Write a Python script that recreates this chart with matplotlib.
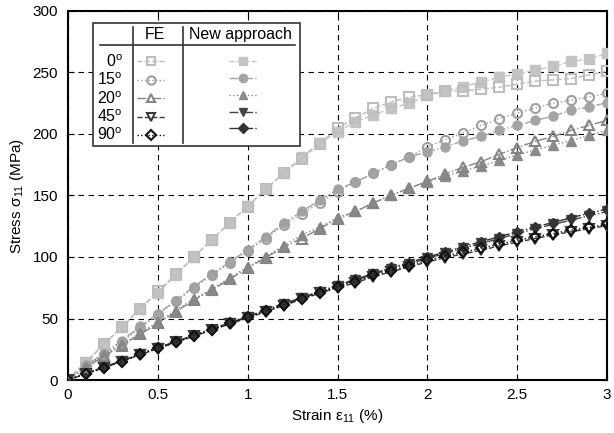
import matplotlib
matplotlib.use("Agg")
import matplotlib.pyplot as plt
from matplotlib.lines import Line2D
from matplotlib.patches import Rectangle

plt.rcParams['font.family'] = ['Liberation Sans', 'DejaVu Sans']
plt.rcParams['mathtext.fontset'] = 'custom'
plt.rcParams['mathtext.rm'] = 'Liberation Sans'
plt.rcParams['mathtext.it'] = 'Liberation Sans:italic'
plt.rcParams['font.size'] = 11

# strain (%)
strain = [0.0, 0.1, 0.2, 0.3, 0.4, 0.5, 0.6, 0.7, 0.8, 0.9, 1.0,
          1.1, 1.2, 1.3, 1.4, 1.5, 1.6, 1.7, 1.8, 1.9, 2.0,
          2.1, 2.2, 2.3, 2.4, 2.5, 2.6, 2.7, 2.8, 2.9, 3.0]

angles = ['0', '15', '20', '45', '90']

# FE results (MPa)
fe_0 = [0, 14, 29, 43, 58, 72, 86, 100, 114, 128, 141, 155, 168, 180, 192, 205,
        213, 221, 226, 230, 232, 235, 235, 236.5, 238, 240.5, 243, 244, 245, 248, 251]
fe_15 = [0, 11, 21, 31, 42, 53, 64, 75, 85, 95, 105, 115, 126, 135, 144, 153,
         161, 168, 175, 181.5, 189.5, 195.5, 201, 207, 212.5, 217, 221, 225, 227.5, 230, 233]
fe_20 = [0, 10, 19.5, 28, 37, 46, 55.5, 65, 73, 82, 91, 99.5, 108, 115, 123, 131,
         137, 144, 150, 156, 161.5, 167.5, 173, 177.5, 183.5, 189, 194, 198, 203, 207, 211]
fe_45 = [0, 5, 10, 15, 20.5, 25.5, 30.5, 35.5, 40.5, 45.5, 50.5, 55.5, 60.5, 65.5, 70.5, 75,
         79, 84, 88, 92, 96, 99.5, 102.5, 105.5, 109, 112, 115, 118, 120.5, 123, 125.5]
fe_90 = [0, 5, 10, 15, 21, 26, 31, 36, 41, 46, 51, 56, 61, 66, 71, 76,
         80, 85, 89, 93, 97.5, 101, 104, 107, 110.5, 113.5, 116.5, 119, 122, 124, 126.5]

# new approach results (MPa)
new_0 = [0, 15, 29, 43, 57.5, 71, 85, 100, 114, 128, 141.5, 155, 168, 181.5, 192.5, 202,
         210, 215.5, 221, 225, 231.5, 235, 238.5, 242.5, 246, 249, 252, 255, 259, 261, 265.5]
new_15 = [0, 12, 21.5, 32, 43.5, 54, 64.5, 76, 86, 96, 106, 116, 127.5, 137, 146, 155,
          161, 168, 175, 181.5, 185.5, 189.5, 194.5, 198, 203, 207, 211, 214.5, 219.5, 222, 225.5]
new_20 = [0, 11, 20.5, 29, 38, 47, 56.5, 66, 74, 83, 92, 100, 109, 118, 124, 132,
          137, 144, 150.5, 156, 161, 165.5, 170, 174, 178.5, 183, 187, 191, 194.5, 199, 203]
new_45 = [0, 5, 10.5, 15.5, 21, 26, 31, 36, 41, 46, 51, 56.5, 61.5, 66.5, 71.5, 76.5,
          81, 86, 90.5, 94.5, 99, 103, 107, 111, 115, 119, 123, 126.5, 130, 133.5, 137]
new_90 = [0, 5.5, 10.5, 15.5, 21, 26.5, 31, 36.5, 41.5, 46.5, 51.5, 57, 62, 67, 72, 77,
          82, 86.5, 91.5, 95.5, 100, 104, 108.5, 112.5, 116.5, 120.5, 124.5, 128, 132, 135.5, 139]

fe_series = [fe_0, fe_15, fe_20, fe_45, fe_90]
new_series = [new_0, new_15, new_20, new_45, new_90]

colors_fe = ['#bdbdbd', '#a0a0a0', '#858585', '#3a3a3a', '#111111']
colors_new = ['#c4c4c4', '#a4a4a4', '#8a8a8a', '#444444', '#333333']
markers = ['s', 'o', '^', 'v', 'D']
msizes = [6.5, 6.5, 6.5, 6.5, 5.5]
fe_ls = ['--', ':', '-.', '--', ':']
new_ls = ['--', '-.', ':', '-.', '-.']

fig = plt.figure(figsize=(6.14, 4.33), dpi=100)
ax = fig.add_axes([0.1107, 0.1224, 0.878, 0.8522])

fe_handles = []
new_handles = []
for i in range(5):
    ax.plot(strain, new_series[i], linestyle=new_ls[i], color=colors_new[i], lw=1,
            marker=markers[i], ms=msizes[i], mfc=colors_new[i], mec=colors_new[i], zorder=3)
    ax.plot(strain, fe_series[i], linestyle=fe_ls[i], color=colors_fe[i], lw=1,
            marker=markers[i], ms=msizes[i], mfc='none', mec=colors_fe[i], mew=1.5, zorder=4)
    fe_handles.append(Line2D([], [], linestyle=fe_ls[i], color=colors_fe[i], lw=1,
                             marker=markers[i], ms=msizes[i] - 0.5, mfc='none',
                             mec=colors_fe[i], mew=1.5))
    new_handles.append(Line2D([], [], linestyle=new_ls[i], color=colors_new[i], lw=1,
                              marker=markers[i], ms=msizes[i] - 0.5, mfc=colors_new[i],
                              mec=colors_new[i]))

ax.set_xlim(0, 3)
ax.set_ylim(0, 300)
ax.set_xticks([0, 0.5, 1, 1.5, 2, 2.5, 3])
ax.set_xticklabels(['0', '0.5', '1', '1.5', '2', '2.5', '3'])
ax.set_yticks([0, 50, 100, 150, 200, 250, 300])
ax.grid(True, color='black', linestyle=(0, (5, 4)), lw=0.8)
ax.tick_params(direction='in', length=4, top=True, right=True)
ax.tick_params(axis='y', pad=7)
ax.tick_params(axis='x', pad=6)
for s in ax.spines.values():
    s.set_linewidth(1.5)

ax.set_xlabel('Strain ε$_{11}$ (%)', labelpad=3)
ax.set_ylabel('Stress σ$_{11}$ (MPa)', labelpad=5)

# table-like legend
labels = [a + '$^\\mathrm{o}$' for a in angles] + [''] * 5
leg = ax.legend(fe_handles + new_handles, labels, ncol=2, markerfirst=False,
                loc='upper right', bbox_to_anchor=(0.3506, 0.885), frameon=False,
                borderpad=0, borderaxespad=0, handlelength=1.75, handletextpad=0.9,
                columnspacing=3.1, labelspacing=0.11, numpoints=1, fontsize=11.5)
leg.set_zorder(6)

tr = ax.transAxes
ax.add_patch(Rectangle((0.0464, 0.6341), 0.384, 0.3334, transform=tr, facecolor='white',
                       edgecolor='#333333', lw=1.2, zorder=5))
ax.plot([0.0594, 0.4212], [0.9079, 0.9079], transform=tr, color='#333333', lw=1.2, zorder=6)
ax.plot([0.1206, 0.1206], [0.6423, 0.9566], transform=tr, color='#333333', lw=1.2, zorder=6)
ax.plot([0.2134, 0.2134], [0.6423, 0.9566], transform=tr, color='#333333', lw=1.2, zorder=6)
ax.text(0.1614, 0.9374, 'FE', transform=tr, ha='center', va='center', fontsize=11.5, zorder=6)
ax.text(0.319, 0.9374, 'New approach', transform=tr, ha='center', va='center', fontsize=11.5, zorder=6)

fig.savefig('out.png', dpi=100)
